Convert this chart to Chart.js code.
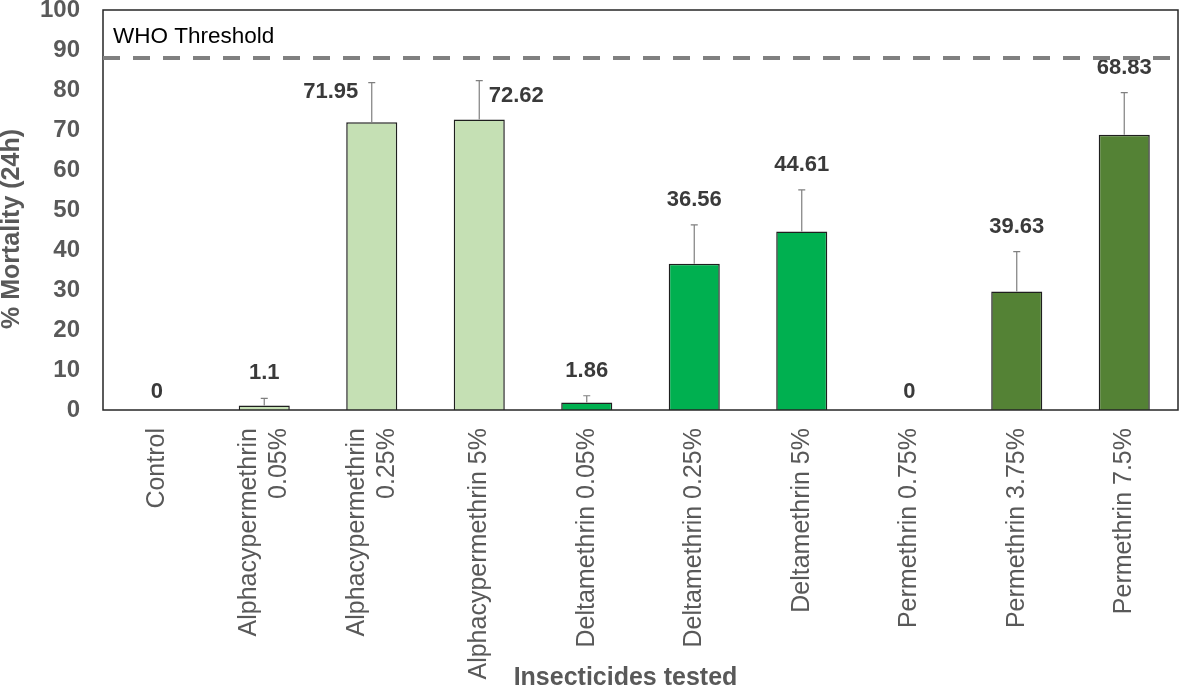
<!DOCTYPE html>
<html>
<head>
<meta charset="utf-8">
<title>Mortality (24h) by insecticide</title>
<script src="https://cdn.jsdelivr.net/npm/chart.js@4.4.1/dist/chart.umd.min.js"></script>
<style>
    html, body { margin: 0; padding: 0; background: #ffffff; }
    #wrap { width: 1180px; height: 690px; position: relative; }
</style>
</head>
<body>
<div id="wrap"><canvas id="mortalityChart"></canvas></div>
<script>
// Data
const categories = [
    ['Control'],
    ['Alphacypermethrin', '0.05%'],
    ['Alphacypermethrin', '0.25%'],
    ['Alphacypermethrin 5%'],
    ['Deltamethrin 0.05%'],
    ['Deltamethrin 0.25%'],
    ['Deltamethrin 5%'],
    ['Permethrin 0.75%'],
    ['Permethrin 3.75%'],
    ['Permethrin 7.5%']
];
const groups = ['control', 'alpha', 'alpha', 'alpha', 'delta', 'delta', 'delta', 'perm', 'perm', 'perm'];
const mortality = [0, 1.1, 71.95, 72.62, 1.86, 36.56, 44.61, 0, 29.6, 68.83];
const errors = [0, 1.8, 9.9, 9.7, 1.7, 9.7, 10.4, 0, 10.0, 10.5];
const valueLabels = ['0', '1.1', '71.95', '72.62', '1.86', '36.56', '44.61', '0', '39.63', '68.83'];
const yTicks = [0, 10, 20, 30, 40, 50, 60, 70, 80, 90, 100];
const whoThreshold = 88;
const xTitle = 'Insecticides tested';
const yTitle = '% Mortality (24h)';

const FONT = '"Liberation Sans", Arial, sans-serif';
const groupColors = {
    control: '#C5E0B4',
    alpha: '#C5E0B4',
    delta: '#00B050',
    perm: '#548235'
};

// label nudges (px) so the numbers sit where they do in the figure
const labelNudge = { 0: [0, 7], 2: [-41, 34], 3: [37, 40], 7: [0, 7] };

const errorBarPlugin = {
    id: 'errorBars',
    afterDatasetsDraw(chart) {
        const { ctx } = chart;
        const y = chart.scales.y;
        const meta = chart.getDatasetMeta(0);
        ctx.save();
        ctx.strokeStyle = '#7F7F7F';
        ctx.lineWidth = 1.2;
        meta.data.forEach((bar, i) => {
            if (!errors[i]) return;
            const yTop = y.getPixelForValue(mortality[i] + errors[i]);
            const yBase = y.getPixelForValue(mortality[i]);
            ctx.beginPath();
            ctx.moveTo(bar.x, yBase);
            ctx.lineTo(bar.x, yTop);
            ctx.moveTo(bar.x - 3.5, yTop);
            ctx.lineTo(bar.x + 3.5, yTop);
            ctx.stroke();
        });
        ctx.restore();
    }
};

const decorationsPlugin = {
    id: 'decorations',
    afterDraw(chart) {
        const { ctx, chartArea } = chart;
        const x = chart.scales.x;
        const y = chart.scales.y;
        const meta = chart.getDatasetMeta(0);

        ctx.save();

        // plot frame
        ctx.strokeStyle = '#262626';
        ctx.lineWidth = 1.5;
        ctx.strokeRect(chartArea.left, chartArea.top, chartArea.right - chartArea.left, chartArea.bottom - chartArea.top);

        // value labels
        ctx.fillStyle = '#3A3A3A';
        ctx.font = 'bold 22px ' + FONT;
        ctx.textAlign = 'center';
        ctx.textBaseline = 'middle';
        meta.data.forEach((bar, i) => {
            const top = y.getPixelForValue(mortality[i] + errors[i]);
            const nudge = labelNudge[i] || [0, 0];
            ctx.fillText(valueLabels[i], bar.x + nudge[0], top - 25 + nudge[1]);
        });

        // category labels, rotated, lines centred on the bar
        ctx.fillStyle = '#595959';
        ctx.font = '25px ' + FONT;
        ctx.textAlign = 'right';
        categories.forEach((lines, i) => {
            const px = x.getPixelForTick(i);
            ctx.save();
            ctx.translate(px, chartArea.bottom + 18);
            ctx.rotate(-Math.PI / 2);
            lines.forEach((line, j) => {
                ctx.fillText(line, 0, (j - (lines.length - 1) / 2) * 30);
            });
            ctx.restore();
        });

        // axis titles (slightly off-centre in the source figure)
        ctx.font = 'bold 25px ' + FONT;
        ctx.textAlign = 'center';
        ctx.fillText(xTitle, (chartArea.left + chartArea.right) / 2 - 15, chart.height - 12);
        ctx.save();
        ctx.translate(12, (chartArea.top + chartArea.bottom) / 2 + 19);
        ctx.rotate(-Math.PI / 2);
        ctx.fillText(yTitle, 0, 0);
        ctx.restore();

        // WHO threshold
        const yT = y.getPixelForValue(whoThreshold);
        ctx.strokeStyle = '#808080';
        ctx.lineWidth = 4;
        ctx.setLineDash([17, 13]);
        ctx.beginPath();
        ctx.moveTo(chartArea.left, yT);
        ctx.lineTo(chart.width, yT);
        ctx.stroke();
        ctx.setLineDash([]);

        ctx.fillStyle = '#000000';
        ctx.font = '22.5px ' + FONT;
        ctx.textAlign = 'left';
        ctx.fillText('WHO Threshold', chartArea.left + 10, yT - 21);

        ctx.restore();
    }
};

document.addEventListener('DOMContentLoaded', () => {
    const ctx = document.getElementById('mortalityChart').getContext('2d');
    new Chart(ctx, {
        type: 'bar',
        data: {
            labels: categories,
            datasets: [{
                data: mortality,
                backgroundColor: groups.map(g => groupColors[g]),
                borderColor: '#1F1F1F',
                borderWidth: 1.5,
                barPercentage: 0.475,
                categoryPercentage: 1
            }]
        },
        options: {
            responsive: true,
            maintainAspectRatio: false,
            animation: false,
            layout: { padding: { top: 10, right: 2, left: 0, bottom: 0 } },
            plugins: {
                legend: { display: false },
                tooltip: { enabled: false }
            },
            scales: {
                x: {
                    grid: { display: false },
                    border: { display: false },
                    ticks: { display: false },
                    afterFit: (scale) => {
                        scale.height = 280;
                        scale.paddingLeft = 0;
                        scale.paddingRight = 0;
                    }
                },
                y: {
                    min: 0,
                    max: 100,
                    grid: { display: false },
                    border: { display: false },
                    afterBuildTicks: (scale) => {
                        scale.ticks = yTicks.map(v => ({ value: v }));
                    },
                    ticks: {
                        color: '#595959',
                        padding: 15,
                        font: { family: FONT, size: 24, weight: 'bold' }
                    },
                    afterFit: (scale) => {
                        scale.width = 103;
                        scale.paddingTop = 0;
                        scale.paddingBottom = 0;
                    }
                }
            }
        },
        plugins: [errorBarPlugin, decorationsPlugin]
    });
});
</script>
</body>
</html>
